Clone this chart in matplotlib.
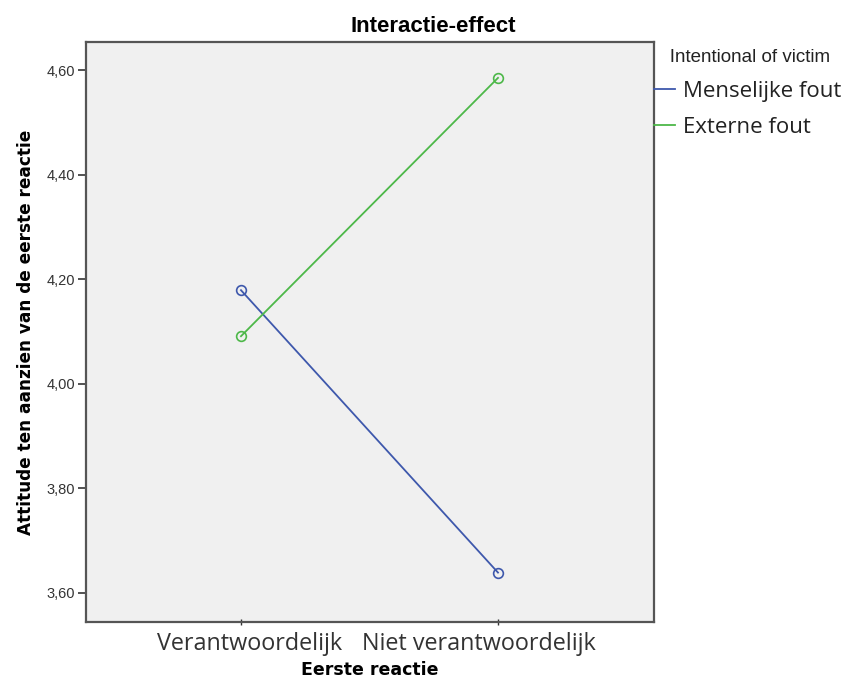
import matplotlib
matplotlib.use("Agg")
import matplotlib.pyplot as plt

categories = ["Verantwoordelijk", "Niet verantwoordelijk"]
series_names = ["Menselijke fout", "Externe fout"]
menselijke = [4.179, 3.639]
externe = [4.091, 4.585]
yticks = [3.60, 3.80, 4.00, 4.20, 4.40, 4.60]
ytick_labels = ["3,60", "3,80", "4,00", "4,20", "4,40", "4,60"]
colors = ["#3E58AC", "#4DB849"]

fig = plt.figure(figsize=(8.52, 6.81), dpi=100)
fig.patch.set_facecolor("white")
ax = fig.add_axes([86/852, 1-622/681, (654-86)/852, (622-42)/681])
ax.set_facecolor("#F0F0F0")

x = list(range(len(categories)))
for vals, name, c in zip([menselijke, externe], series_names, colors):
    ax.plot(x, vals, color=c, lw=1.3, marker="o", markersize=7,
            markerfacecolor="none", markeredgecolor=c, markeredgewidth=1.2,
            label=name)

ax.set_xlim(-0.603, 1.607)
ax.set_ylim(3.5445, 4.6536)
ax.set_yticks(yticks)
ax.set_yticklabels(ytick_labels, family=["Liberation Sans", "DejaVu Sans"],
                   fontsize=10.5, color="#333333")
ax.set_xticks(x)
ax.set_xticklabels([])
# category labels, slightly offset from tick centres as in the original
offsets_px = [9, -19.5]
for xi, cat, dx in zip(x, categories, offsets_px):
    ax.annotate(cat, xy=(xi, 0), xycoords=("data", "axes fraction"),
                xytext=(dx * 0.72, -28 * 0.72), textcoords="offset points",
                ha="center", va="baseline", fontsize=16.8, color="#333333",
                family=["Open Sans", "DejaVu Sans"], annotation_clip=False)
ax.tick_params(axis="y", length=6, width=1.2, color="#333333", pad=2)
ax.tick_params(axis="x", length=4, width=1.0, color="#333333", pad=4, direction="inout")

for s in ax.spines.values():
    s.set_color("#555555")
    s.set_linewidth(1.6)

ax.set_xlabel("Eerste reactie", family=["DejaVu Sans"],
              fontsize=12.5, fontweight="bold")
ax.xaxis.label.set_va("baseline")
ax.xaxis.set_label_coords(0.5, -(675 - 622) / 580)
ax.set_ylabel("Attitude ten aanzien van de eerste reactie",
              family=["DejaVu Sans"],
              fontsize=12.2, fontweight="bold", labelpad=8)

fig.text(433/852, 1-26/681, "Interactie-effect", ha="center", va="center",
         family=["Liberation Sans", "DejaVu Sans"], fontsize=16, fontweight="bold")

leg = ax.legend(loc="upper left", bbox_to_anchor=(1.0, 1-(49-42)/580),
                frameon=False, handlelength=0.95, handletextpad=0.36,
                borderaxespad=0, borderpad=0, labelspacing=0.68,
                title="   Intentional of victim", alignment="left",
                prop={"family": ["Open Sans", "DejaVu Sans"], "size": 16})
leg.get_title().set_family(["Liberation Sans", "DejaVu Sans"])
leg.get_title().set_fontsize(13.5)
leg.get_title().set_color("#222222")
for t in leg.get_texts():
    t.set_color("#222222")
for h in leg.legend_handles:
    h.set_marker("")

fig.savefig("out.png", dpi=100)
